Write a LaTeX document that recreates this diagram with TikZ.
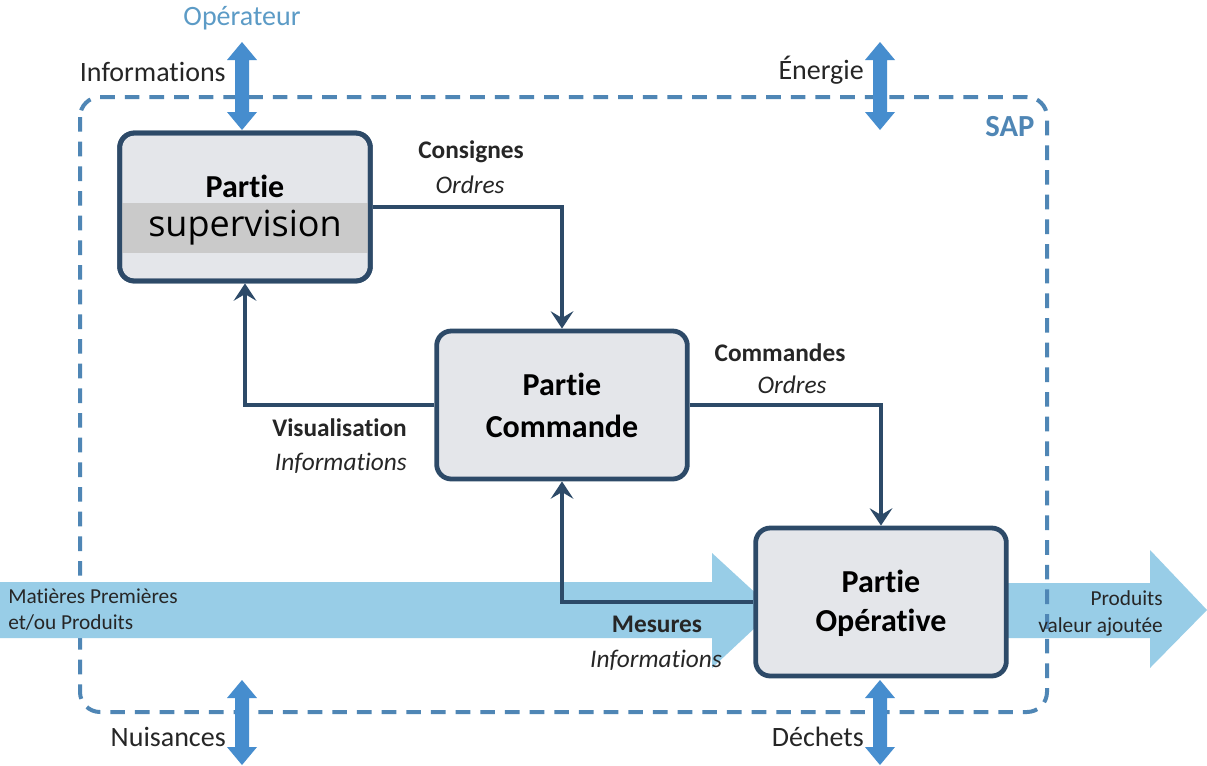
\documentclass[tikz,border=0pt]{standalone}
\usepackage{fontspec}
\setmainfont[Ligatures=NoCommon]{Carlito}
\newfontfamily\osans{Open Sans}
\usetikzlibrary{arrows.meta}
\definecolor{sapblue}{RGB}{79,134,181}
\definecolor{flowblue}{RGB}{70,141,206}
\definecolor{boxline}{RGB}{45,74,104}
\definecolor{boxfill}{RGB}{228,230,234}
\definecolor{bandgray}{RGB}{202,202,202}
\definecolor{matblue}{RGB}{152,205,231}
\definecolor{opblue}{RGB}{92,155,198}
\definecolor{txt}{RGB}{38,38,38}
\newcommand{\dblarr}[3]{%
  \fill[flowblue] (#1,#2) -- (#1+15,#2+18) -- (#1+7,#2+18) -- (#1+7,#3-18) -- (#1+15,#3-18)
    -- (#1,#3) -- (#1-15,#3-18) -- (#1-7,#3-18) -- (#1-7,#2+18) -- (#1-15,#2+18) -- cycle;}
\begin{document}
\begin{tikzpicture}[x=0.75pt,y=-0.75pt,
  part/.style={draw=boxline, line width=3.6pt, rounded corners=11pt,
    minimum width=188pt, minimum height=111pt, inner sep=0pt},
  partfill/.style={part, fill=boxfill},
  conn/.style={draw=boxline, line width=3.4pt, -{Stealth[length=13pt 0,width=17pt 0,inset=5pt 0]}},
  big/.style={font=\fontsize{21}{24}\selectfont, text=txt, inner sep=0pt},
  title/.style={font=\fontsize{24}{28}\selectfont\bfseries, text=black, inner sep=0pt},
  lblb/.style={font=\fontsize{19}{22}\selectfont\bfseries, text=txt, inner sep=0pt},
  lbli/.style={font=\fontsize{19}{22}\selectfont\itshape, text=txt, inner sep=0pt},
  small/.style={font=\fontsize{16}{19}\selectfont, text=txt, inner sep=0pt}
]
\useasboundingbox (0,0) rectangle (1207,765);
\fill[white] (0,0) rectangle (1207,765);

% right output arrow
\fill[matblue] (1000,583) -- (1150,583) -- (1150,550) -- (1207,610) -- (1150,668) -- (1150,638) -- (1000,638) -- cycle;

% SAP border
\draw[sapblue, line width=3pt, dash pattern=on 11pt off 7.5pt, rounded corners=15pt] (80,97) rectangle (1047,712);
\node[font=\fontsize{23}{26}\selectfont\bfseries, text=sapblue, inner sep=0pt] (sap) at (1010,127) {SAP};

% left input arrow
\fill[matblue] (0,582) -- (712,582) -- (712,553) -- (774,610) -- (712,668) -- (712,638) -- (0,638) -- cycle;
\node[small, anchor=west] (mp1) at (8,596) {Matières Premières};
\node[small, anchor=west] (mp2) at (8,623) {et/ou Produits};
\node[small, anchor=east] (pv1) at (1163,598) {Produits};
\node[small, anchor=east] (pv2) at (1163,627) {valeur ajoutée};

% exchange arrows
\dblarr{242}{42}{130}
\dblarr{880}{42}{130}
\dblarr{242}{680}{765}
\dblarr{880}{680}{765}
\node[font=\fontsize{21}{24}\selectfont, text=opblue, inner sep=0pt] (oper) at (242,18) {Opérateur};
\node[big, anchor=east] (info) at (226,72) {Informations};
\node[big, anchor=east] (ener) at (864,70) {Énergie};
\node[big, anchor=east] (nuis) at (226,737) {Nuisances};
\node[big, anchor=east] (dech) at (864,737) {Déchets};

% boxes (background)
\node[partfill] (supbg) at (245,207) {};
\fill[bandgray] (121,203) rectangle (369,253);
\node[part] (sup) at (245,207) {};
\node[partfill] (cmd) at (562,405) {};
\node[partfill] (op) at (881,602) {};

% connectors
\draw[conn] (sup.east) -| (cmd.north);
\draw[conn] (cmd.west) -| (sup.south);
\draw[conn] (cmd.east) -| (op.north);
\draw[conn] (op.west) -| (cmd.south);

% box texts
\node[title] (supt1) at (245,186) {Partie};
\node[font=\fontsize{27}{30}\selectfont\osans, text=black, inner sep=0pt] (supt2) at (245,228) {supervision};
\node[title] (cmdt1) at (562,384) {Partie};
\node[title] (cmdt2) at (562,426) {Commande};
\node[title] (opt1) at (881,581) {Partie};
\node[title] (opt2) at (881,623) {Opérative};

% connector labels
\node[lblb] (cons) at (471,152) {Consignes};
\node[lbli] (ord1) at (470,185) {Ordres};
\node[lblb, anchor=east] (visu) at (407,428) {Visualisation};
\node[lbli, anchor=east] (info2) at (407,463) {Informations};
\node[lblb] (comm) at (780,353) {Commandes};
\node[lbli] (ord2) at (792,385) {Ordres};
\node[lblb] (mes) at (657,624) {Mesures};
\node[lbli] (info3) at (656,660) {Informations};
\end{tikzpicture}
\end{document}
